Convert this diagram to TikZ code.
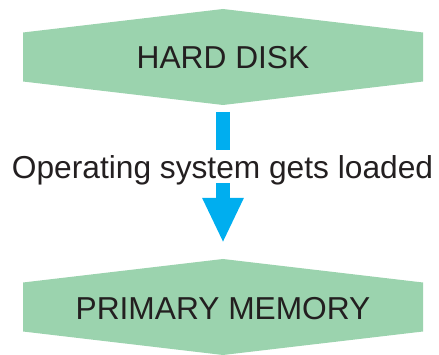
\documentclass[tikz,border=0pt]{standalone}
\usepackage{fontspec}
\setmainfont{Liberation Sans}
\usetikzlibrary{arrows.meta}
\definecolor{hexgreen}{RGB}{155,211,174}
\definecolor{arrowblue}{RGB}{0,174,239}
\definecolor{textdark}{RGB}{35,31,32}
\begin{document}
\begin{tikzpicture}[x=1pt,y=-1pt,
  hexbox/.style={fill=hexgreen,draw=none},
  lbl/.style={text=textdark,font=\fontsize{31.7}{38}\selectfont,inner sep=0pt,anchor=base},
  bigarrow/.style={draw=arrowblue,line width=14pt,-{Triangle[width=38pt,length=45pt]}},
  midlabel/.style={lbl,fill=white,text height=28.5pt,text depth=4.5pt}]
\useasboundingbox (0,0) rectangle (439,355);
% hard disk hexagon
\fill[hexbox] (223,9) -- (423,32.5) -- (423,81.5) -- (223,105) -- (23,81.5) -- (23,32.5) -- cycle;
\coordinate (hdb) at (223,105);
\node[lbl] (hd) at (223,68.3) {HARD DISK};
% primary memory hexagon
\fill[hexbox] (223,259) -- (423,282.5) -- (423,331.5) -- (223,355) -- (23,331.5) -- (23,282.5) -- cycle;
\coordinate (pmt) at (223,259);
\node[lbl] (pm) at (223,319.3) {PRIMARY MEMORY};
% arrow with label
\draw[bigarrow,shorten <=7pt,shorten >=16pt] (hdb) -- (pmt);
\node[midlabel] (lab) at (222.5,178.5) {Operating system gets loaded};
\end{tikzpicture}
\end{document}
